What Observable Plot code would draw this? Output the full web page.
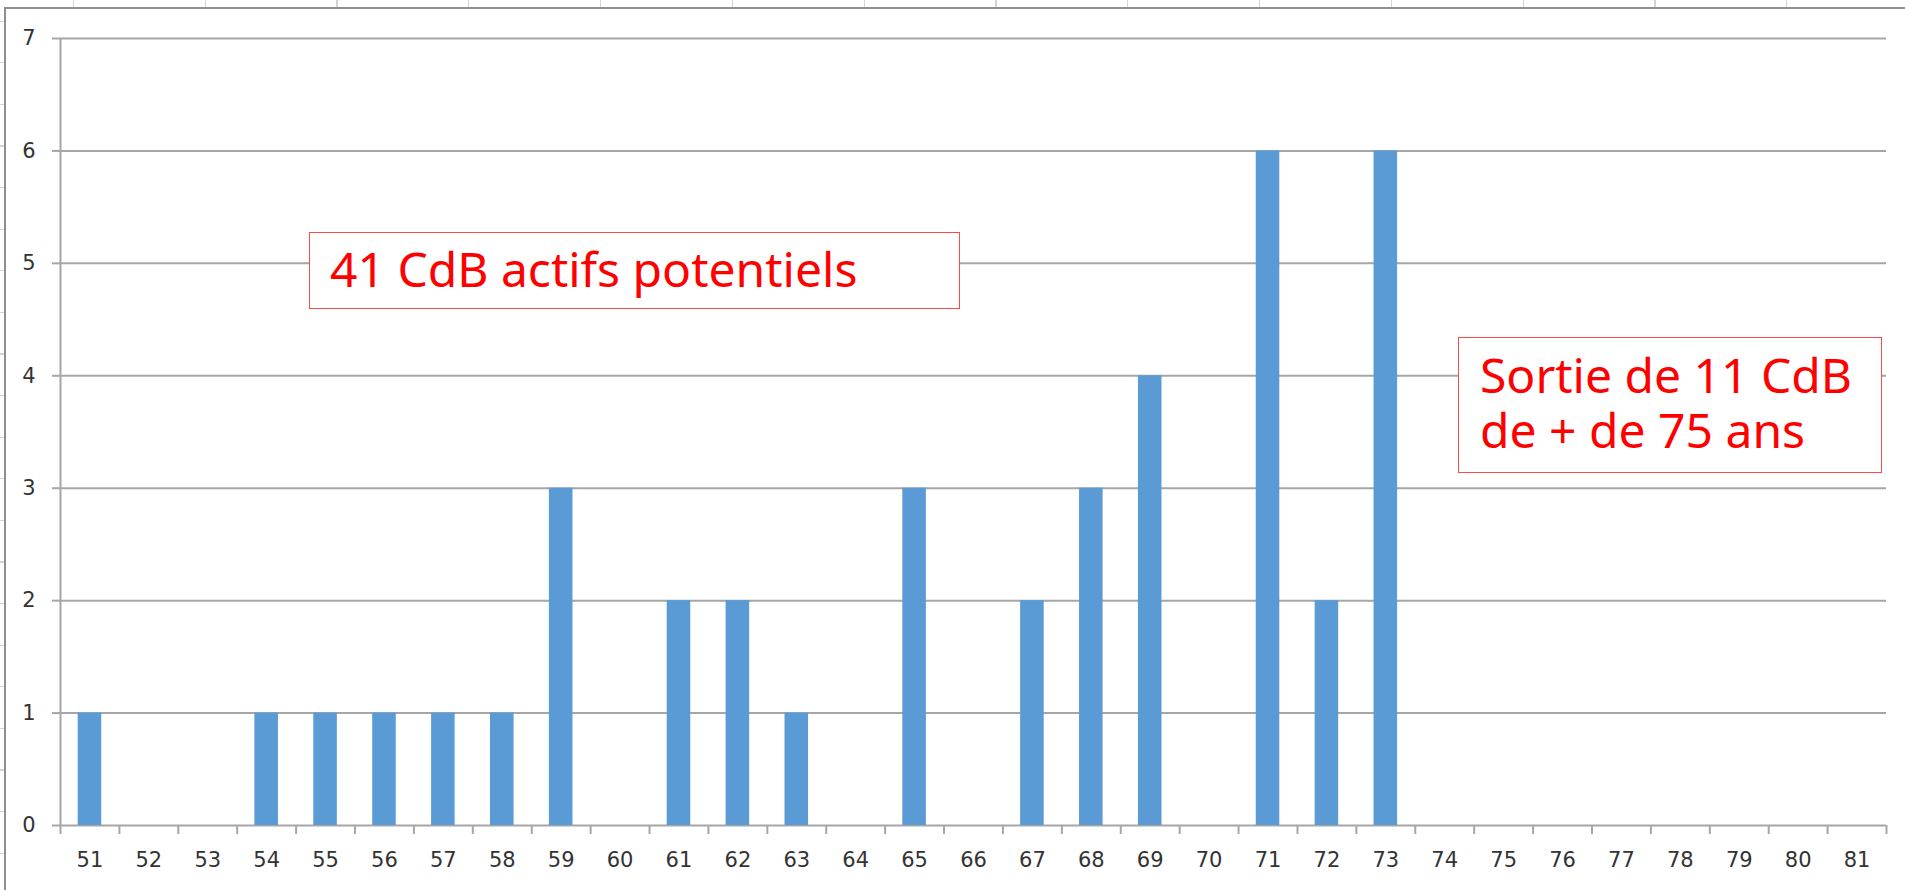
<!DOCTYPE html>
<html>
<head>
<meta charset="utf-8">
<script src="https://cdn.jsdelivr.net/npm/d3@7"></script>
<script src="https://cdn.jsdelivr.net/npm/@observablehq/plot@0.6"></script>
<style>
  html, body { margin: 0; padding: 0; background: #fff; overflow: hidden; }
  #wrap { position: relative; width: 1905px; height: 890px; }
  #chart svg { display: block; }
  .sheet-top { position: absolute; left: -58.8px; top: 0; width: 2000px; height: 7px;
    background: repeating-linear-gradient(90deg, #d4d4d4 0 1.2px, transparent 1.2px 131.8px); }
  .sheet-left { position: absolute; left: 0; top: -21.1px; width: 4px; height: 940px;
    background: repeating-linear-gradient(180deg, #d4d4d4 0 1.2px, transparent 1.2px 41.6px); }
  .frame { position: absolute; left: 4px; top: 7px; right: -10px; bottom: -10px;
    border-top: 2px solid #8f8f8f; border-left: 2px solid #8f8f8f; pointer-events: none; }
  .note { position: absolute; box-sizing: border-box; background: #fff;
    border: 1.5px solid #ff4a4a; color: #ff0000;
    font-family: "Comic Sans MS", "Noto Sans", sans-serif; font-size: 48px;
    white-space: nowrap; }
  .note .line { display: block; height: 55px; line-height: 55px; overflow: visible; }
</style>
</head>
<body>
<div id="wrap">
  <div class="sheet-top"></div>
  <div class="sheet-left"></div>
  <div class="frame"></div>
  <div id="chart"></div>
</div>
<script>
// Ages (x categories) and number of CdB per age
const ages   = [51,52,53,54,55,56,57,58,59,60,61,62,63,64,65,66,67,68,69,70,71,72,73,74,75,76,77,78,79,80,81];
const counts = [ 1, 0, 0, 1, 1, 1, 1, 1, 3, 0, 2, 2, 1, 0, 3, 0, 2, 3, 4, 0, 6, 2, 6, 0, 0, 0, 0, 0, 0, 0, 0];
const yTicks = [0,1,2,3,4,5,6,7];
const notes  = [
  {lines: ["41 CdB actifs potentiels"]},
  {lines: ["Sortie de 11 CdB", "de + de 75 ans"]}
];

const data = ages.map((a, i) => ({age: a, count: counts[i]}));
const boundaries = ages.map(a => a - 0.5).concat([ages[ages.length - 1] + 0.5]);
const grid = "#a6a6a6";
const labelColor = "#333";

const plot = Plot.plot({
  width: 1905,
  height: 890,
  marginLeft: 60,
  marginRight: 19,
  marginTop: 38,
  marginBottom: 65,
  style: {background: "transparent", fontFamily: "DejaVu Sans, sans-serif"},
  x: {type: "linear", domain: [boundaries[0], boundaries[boundaries.length - 1]]},
  y: {domain: [0, 7]},
  marks: [
    Plot.ruleY(yTicks, {y: d => d, stroke: grid, strokeWidth: 2}),
    Plot.ruleX([boundaries[0]], {stroke: grid, strokeWidth: 2}),
    Plot.axisY({ticks: yTicks, tickSize: 8, tickPadding: 17, stroke: grid, strokeWidth: 2,
      fill: labelColor, fontSize: 21, label: null, tickFormat: d => String(d)}),
    Plot.axisX({ticks: boundaries, tickSize: 9, stroke: grid, strokeWidth: 2,
      tickFormat: () => "", label: null}),
    Plot.axisX({ticks: ages, tickSize: 0, tickPadding: 27, fill: labelColor, fontSize: 21,
      tickFormat: d => String(d), label: null}),
    Plot.rectY(data, {x1: d => d.age - 0.2, x2: d => d.age + 0.2, y: "count", fill: "#5b9bd5"})
  ]
});
document.getElementById("chart").appendChild(plot);

// annotation text boxes
const boxes = [
  {left: 309, top: 232, width: 651, height: 77, padL: 20, padT: 7.5},
  {left: 1458, top: 337, width: 424, height: 136, padL: 21, padT: 8.5}
];
const wrap = document.getElementById("wrap");
notes.forEach((n, i) => {
  const b = boxes[i];
  const div = document.createElement("div");
  div.className = "note";
  Object.assign(div.style, {left: b.left + "px", top: b.top + "px", width: b.width + "px",
    height: b.height + "px", paddingLeft: b.padL + "px", paddingTop: b.padT + "px"});
  n.lines.forEach(t => {
    const line = document.createElement("span");
    line.className = "line";
    line.textContent = t;
    div.appendChild(line);
  });
  wrap.appendChild(div);
});
</script>
</body>
</html>
